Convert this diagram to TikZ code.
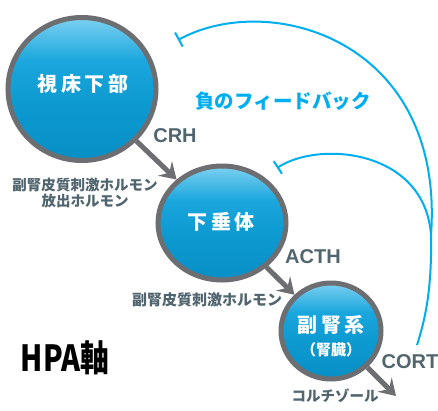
\documentclass[tikz,border=0pt]{standalone}
\usepackage{fontspec}
\setmainfont{Liberation Sans}
\newfontfamily\jp{Noto Sans CJK JP}
\usetikzlibrary{arrows.meta,shapes.geometric}
\definecolor{ringgray}{HTML}{6D6E71}
\definecolor{fbblue}{HTML}{00AEEF}
\definecolor{labslate}{HTML}{51656F}
\definecolor{balllight}{HTML}{7CD0F1}
\definecolor{ballmid}{HTML}{1BA7DD}
\definecolor{ballmid2}{HTML}{0D9AD1}
\definecolor{balldark}{HTML}{078FC5}
\pgfdeclareverticalshading{ballshade}{100bp}{color(0bp)=(balldark); color(25bp)=(balldark); color(45bp)=(ballmid2); color(60bp)=(ballmid); color(75bp)=(balllight); color(100bp)=(balllight)}
\begin{document}
\begin{tikzpicture}[x=1pt,y=-1pt,
  ball/.style={ellipse, draw=ringgray, line width=5pt, shade, shading=ballshade, inner sep=0pt},
  balltext/.style={inner sep=0pt, text=white, font=\jp\bfseries\fontsize{20}{22}\selectfont},
  hormone/.style={draw=ringgray, line width=5pt, -{Stealth[length=16pt,width=20pt,inset=6pt]}},
  fb/.style={draw=fbblue, line width=2pt},
  hormlabel/.style={inner sep=0pt, text=labslate, font=\bfseries\fontsize{20}{22}\selectfont},
  jplabel/.style={inner sep=0pt, text=labslate, font=\jp\bfseries\fontsize{14.5}{16}\selectfont}]
\useasboundingbox (0,0) rectangle (438,410);
% feedback loops
\coordinate (fbtop) at (178,40);
\coordinate (fbmid) at (277,168);
\coordinate (fbjoin) at (431,235);
\coordinate (fbend) at (417,345);
\draw[fb, {Bar[width=16pt]}-] (fbtop) .. controls (270,-10) and (445,40) .. (fbjoin) .. controls (432,290) and (425,320) .. (fbend);
\draw[fb, {Bar[width=15pt]}-] (fbmid) .. controls (320,140) and (425,150) .. (fbjoin);
\node[inner sep=0pt, text=fbblue, font=\jp\bfseries\fontsize{19.5}{20}\selectfont] (fbtext) at (283,101) {負のフィードバック};
% glands
\node[ball, minimum width=148pt, minimum height=143pt] (hyp) at (82,89) {};
\node[ball, minimum width=128pt, minimum height=114pt] (pit) at (222,223) {};
\node[ball, minimum width=100pt, minimum height=96pt] (adr) at (331,331) {};
\node[balltext] (hyptext) at (83,84) {視\kern3.5pt床\kern3.5pt下\kern3.5pt部};
\node[balltext] (pittext) at (221,222) {下\kern3.5pt垂\kern3.5pt体};
\node[balltext] (adrtext) at (331,325) {副\kern3.5pt腎\kern3.5pt系};
\node[balltext, font=\jp\bfseries\fontsize{15}{16}\selectfont] (adrsub) at (331,350) {（腎臓）};
% hormone arrows
\coordinate (cortend) at (396,396);
\draw[hormone] (hyp) -- (pit);
\draw[hormone] (pit) -- (adr);
\draw[hormone] (adr) -- (cortend);
% labels
\node[hormlabel] (crh) at (175,136) {CRH};
\node[hormlabel] (acth) at (313,257) {ACTH};
\node[hormlabel] (cort) at (410,362) {CORT};
\node[jplabel, align=center] (crhjp) at (85,193) {副腎皮質刺激ホルモン\\放出ホルモン};
\node[jplabel, font=\jp\bfseries\fontsize{15}{16}\selectfont] (acthjp) at (207,300) {副腎皮質刺激ホルモン};
\node[jplabel] (cortjp) at (335,396) {コルチゾール};
\node[inner sep=0pt, text=black, font=\jp\bfseries\fontsize{36}{36}\selectfont] (hpa) at (65,358) {\scalebox{0.8}[1]{HPA軸}};
\end{tikzpicture}
\end{document}
